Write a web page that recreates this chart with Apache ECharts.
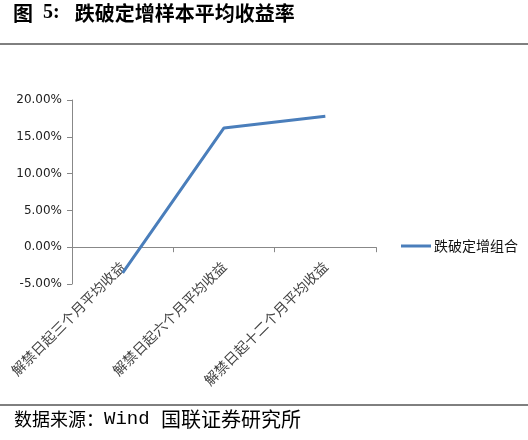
<!DOCTYPE html>
<html><head><meta charset="utf-8">
<script src="https://cdn.jsdelivr.net/npm/echarts@6/dist/echarts.min.js"></script>
<style>html,body{margin:0;padding:0;background:#fff}#c{width:528px;height:440px}</style>
</head><body><div id="c"></div>
<script>
const categories = ['解禁日起三个月平均收益', '解禁日起六个月平均收益', '解禁日起十二个月平均收益'];
const seriesName = '跌破定增组合';
const values = [-0.035, 0.162, 0.178];
const yTicks = { min: -0.05, max: 0.2, interval: 0.05 };

const chart = echarts.init(document.getElementById('c'));
chart.setOption({
  animation: false,
  backgroundColor: '#fff',
  grid: { left: 72, right: 152, top: 100, bottom: 156, containLabel: false },
  legend: {
    data: [seriesName], left: 396, top: 234, itemWidth: 30, itemHeight: 3, itemGap: 4,
    icon: 'rect',
    textStyle: { fontFamily: 'Noto Sans CJK SC', fontSize: 14, color: '#111', padding: [0,0,0,-2] }
  },
  xAxis: {
    type: 'category', data: categories, boundaryGap: true,
    axisLine: { onZero: true, lineStyle: { color: '#888', width: 1 } },
    axisTick: { show: true, length: 5, lineStyle: { color: '#888' } },
    axisLabel: { rotate: 45, interval: 0, margin: -20, fontFamily: 'Noto Sans CJK SC', fontSize: 14, color: '#444' }
  },
  yAxis: {
    type: 'value', min: yTicks.min, max: yTicks.max, interval: yTicks.interval,
    axisLine: { show: true, lineStyle: { color: '#888' } },
    axisTick: { show: true, length: 5, lineStyle: { color: '#888' } },
    splitLine: { show: false },
    axisLabel: { margin: 10, fontFamily: 'DejaVu Sans', fontSize: 12, color: '#222',
      formatter: v => (v * 100).toFixed(2) + '%' }
  },
  series: [{
    name: seriesName, type: 'line', data: values, symbol: 'none',
    lineStyle: { color: '#4a7ebb', width: 3 }, itemStyle: { color: '#4a7ebb' }
  }],
  graphic: [
    { type: 'text', left: 13, top: 3, style: {
      text: '{a|图}{b|  5:   }{a|跌破定增样本平均收益率}',
      rich: {
        a: { fontFamily: 'Noto Sans CJK SC', fontWeight: 'bold', fontSize: 20, fill: '#000' },
        b: { fontFamily: 'Liberation Serif', fontWeight: 'bold', fontSize: 20, fill: '#000' }
      } } },
    { type: 'line', shape: { x1: 0, y1: 44, x2: 528, y2: 44 }, style: { stroke: '#000', lineWidth: 1 } },
    { type: 'line', shape: { x1: 0, y1: 405, x2: 528, y2: 405 }, style: { stroke: '#000', lineWidth: 1 } },
    { type: 'text', left: 14, top: 409, style: {
      text: '{a|数据来源：}{b|Wind }{c|国联证券研究所}',
      rich: {
        a: { fontFamily: 'Noto Sans CJK SC', fontSize: 18, fill: '#000' },
        b: { fontFamily: 'Liberation Mono', fontSize: 19, fill: '#000' },
        c: { fontFamily: 'Noto Sans CJK SC', fontSize: 20, fill: '#000' }
      } } }
  ]
});
</script></body></html>
